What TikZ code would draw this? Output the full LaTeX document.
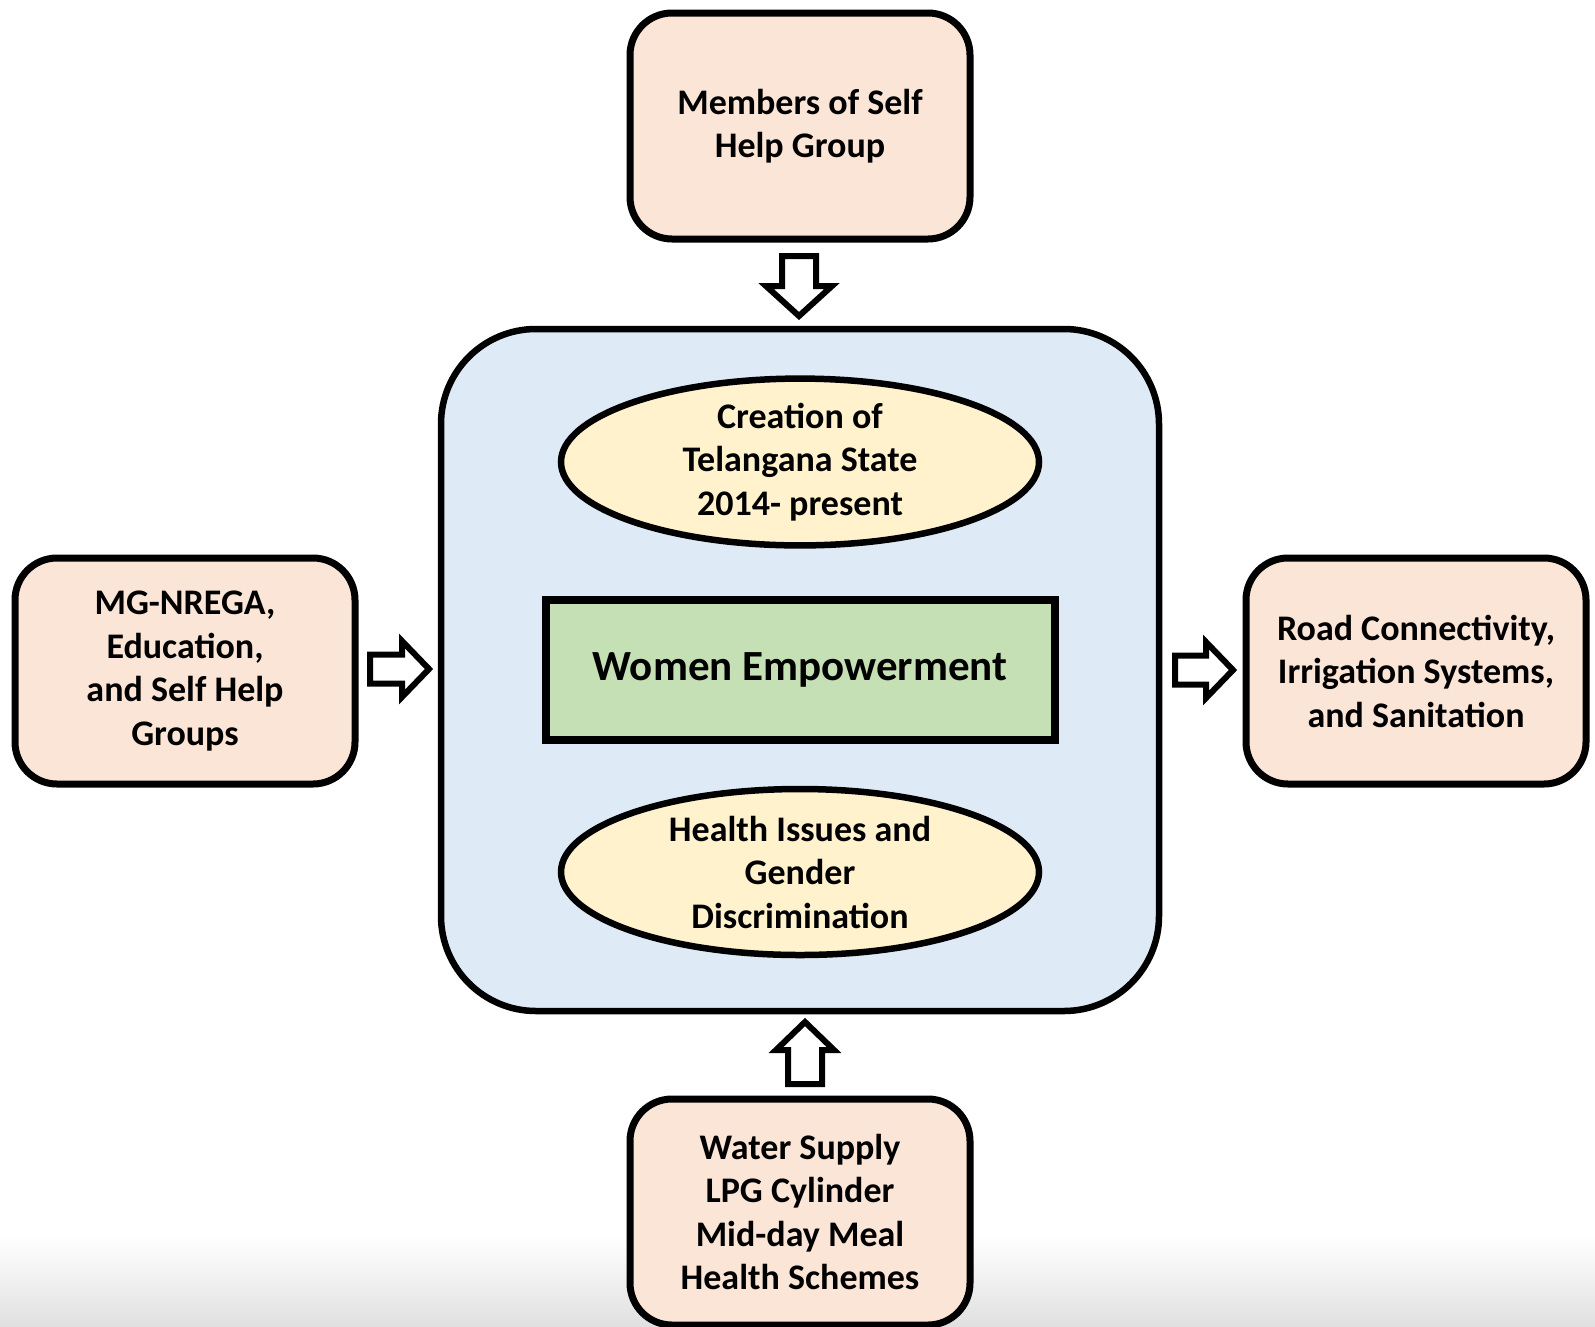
\documentclass[tikz,border=0pt]{standalone}
\usepackage{fontspec}
\setmainfont{Carlito}
\usetikzlibrary{shapes.geometric}
\definecolor{peach}{HTML}{FBE5D6}
\definecolor{paleblue}{HTML}{DEEBF7}
\definecolor{paleyellow}{HTML}{FFF2CC}
\definecolor{palegreen}{HTML}{C5E0B4}
\tikzset{
  txt/.style={font=\fontsize{36}{43.5}\selectfont\bfseries, align=center},
  outerbox/.style={draw=black, line width=7pt, fill=peach, rounded corners=42pt,
    minimum width=340pt, minimum height=226pt, inner sep=0pt, txt},
  centrebox/.style={draw=black, line width=6.5pt, fill=paleblue, rounded corners=95pt,
    minimum width=718pt, minimum height=682pt, inner sep=0pt},
  oval/.style={ellipse, draw=black, line width=6.5pt, fill=paleyellow,
    minimum width=478pt, minimum height=166pt, inner sep=0pt, txt},
  greenbox/.style={draw=black, line width=8pt, fill=palegreen,
    minimum width=509pt, minimum height=140pt, inner sep=0pt,
    font=\fontsize{43}{48}\selectfont\bfseries},
  blockarrow/.style={draw=black, line width=6pt, fill=white, miter limit=10}
}
\begin{document}
\begin{tikzpicture}[x=1pt, y=-1pt]
\useasboundingbox (0,0) rectangle (1595,1326);
\fill[white] (0,0) rectangle (1595,1326);
\shade[top color=white, bottom color=black!12] (0,1235) rectangle (1595,1326);

\node[centrebox] (centre) at (800,670) {};
\node[oval] (creation) at (800,462) {Creation of\\Telangana State\\2014- present};
\node[greenbox] (women) at (800,670) {\raisebox{-4pt}{Women Empowerment}};
\node[oval] (health) at (800,872) {Health Issues and\\Gender\\Discrimination};

\node[outerbox] (top) at (800,126) {Members of Self\\Help Group};
\node[outerbox] (left) at (185,671) {MG-NREGA,\\Education,\\and Self Help\\Groups};
\node[outerbox] (right) at (1416,671) {Road Connectivity,\\Irrigation Systems,\\and Sanitation};
\node[outerbox] (bottom) at (800,1212) {Water Supply\\LPG Cylinder\\Mid-day Meal\\Health Schemes};

% block arrows
\draw[blockarrow] (782,256) -- (816,256) -- (816,286) -- (832,286) -- (799,316)
  -- (766,286) -- (782,286) -- cycle;
\draw[blockarrow] (370,654.5) -- (402,654.5) -- (402,641) -- (429,669) -- (402,697)
  -- (402,683.5) -- (370,683.5) -- cycle;
\draw[blockarrow] (1175,655.5) -- (1206,655.5) -- (1206,642) -- (1233,670) -- (1206,698)
  -- (1206,684.5) -- (1175,684.5) -- cycle;
\draw[blockarrow] (805,1022) -- (834,1050) -- (822,1050) -- (822,1084) -- (788,1084)
  -- (788,1050) -- (776,1050) -- cycle;
\end{tikzpicture}
\end{document}
